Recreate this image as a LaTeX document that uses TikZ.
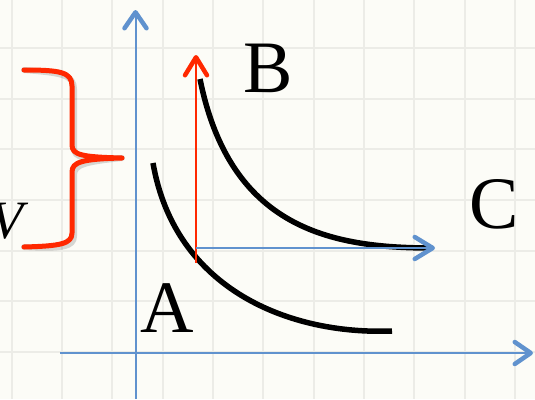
\documentclass[tikz,border=0pt]{standalone}
\usepackage{fontspec}
\setmainfont{Liberation Serif}
\usetikzlibrary{arrows.meta}
\definecolor{bgcream}{RGB}{252,252,247}
\definecolor{gridgray}{RGB}{236,236,231}
\definecolor{axisblue}{RGB}{96,146,206}
\definecolor{pred}{RGB}{255,40,0}
\tikzset{
  gridline/.style={draw=gridgray,line width=2pt},
  axis/.style={draw=axisblue,line width=2pt,
    -{Straight Barb[length=16pt,width=22pt,line width=4.5pt,round]}},
  redarrow/.style={draw=pred,line width=2pt,
    -{Straight Barb[length=18pt,width=22pt,line width=4.5pt,round]}},
  bluearrow/.style={draw=axisblue,line width=2pt,
    -{Straight Barb[length=18pt,width=22pt,line width=4.5pt,round]}},
  curve/.style={draw=black,line width=5.5pt},
  bigletter/.style={inner sep=0pt,font=\fontsize{74}{80}\selectfont},
  vletter/.style={inner sep=0pt,font=\fontsize{54}{60}\selectfont\itshape},
  bracered/.style={draw=pred,line width=5pt,line cap=round,line join=round},
  braceshadow/.style={draw=black,opacity=0.15,line width=6pt,line cap=round,line join=round}
}
\begin{document}
\begin{tikzpicture}[x=1pt,y=-1pt]
\useasboundingbox (0,0) rectangle (535,399);
\fill[bgcream] (0,0) rectangle (535,399);
% grid
\foreach \gx in {11.7,62,112.4,162.7,213,263.3,313.7,364,414.3,464.7,515}
  \draw[gridline] (\gx,0) -- (\gx,399);
\foreach \gy in {-2.7,48,98.7,149.3,200,250.7,301.3,352}
  \draw[gridline] (0,\gy) -- (535,\gy);
% coordinates
\coordinate (ybot) at (135.5,399);
\coordinate (ytop) at (135.5,10);
\coordinate (xleft) at (60,353);
\coordinate (xright) at (533,353);
\coordinate (rbot) at (196,263);
\coordinate (rtop) at (196,55);
\coordinate (hstart) at (196,248);
\coordinate (hend) at (435,248);
\coordinate (bstart) at (200,79);
\coordinate (bend) at (432,248);
\coordinate (astart) at (153,163);
\coordinate (aend) at (392,331);
% axes
\draw[axis] (ybot) -- (ytop);
\draw[axis] (xleft) -- (xright);
% curves
\draw[curve] (bstart) .. controls (230,228) and (330,248) .. (bend);
\draw[curve] (astart) .. controls (175,290) and (290,335) .. (aend);
% arrows
\draw[redarrow] (rbot) -- (rtop);
\draw[bluearrow] (hstart) -- (hend);
% labels
\node[bigletter] (labB) at (268,68) {B};
\node[bigletter] (labC) at (494,204) {C};
\node[bigletter] (labA) at (167,308) {A};
\node[vletter,anchor=base east] (labV) at (24,238) {V};
% brace
\coordinate (brtop) at (24,70);
\coordinate (brtip) at (122,158);
\coordinate (brbot) at (24,247);
\begin{scope}[shift={(2,3)}]
\draw[braceshadow] (brtop) .. controls (60,70) and (72,72) .. (72,86) -- (72,145)
  .. controls (72,155) and (82,157) .. (brtip)
  .. controls (82,159) and (72,162) .. (72,172) -- (72,233)
  .. controls (72,244) and (60,246) .. (brbot);
\end{scope}
\draw[bracered] (brtop) .. controls (60,70) and (72,72) .. (72,86) -- (72,145)
  .. controls (72,155) and (82,157) .. (brtip)
  .. controls (82,159) and (72,162) .. (72,172) -- (72,233)
  .. controls (72,244) and (60,246) .. (brbot);
\end{tikzpicture}
\end{document}
